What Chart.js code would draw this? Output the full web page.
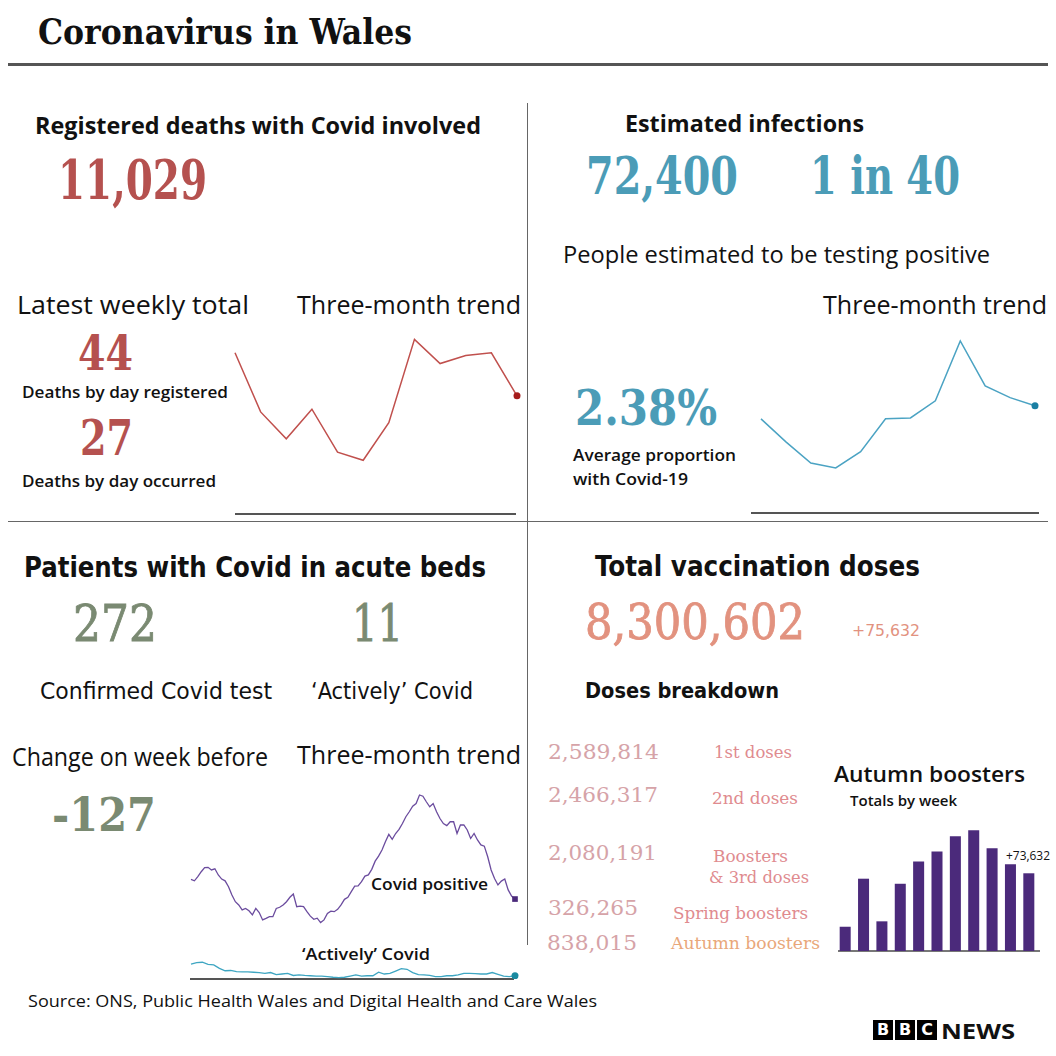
<!DOCTYPE html>
<html>
<head>
<meta charset="utf-8">
<script src="https://cdn.jsdelivr.net/npm/chart.js@4.4.1/dist/chart.umd.min.js"></script>
<style>
  body { margin: 0; background: #fff; }
  #page { position: relative; width: 1056px; height: 1056px; overflow: hidden; background: #fff; }
  .t { position: absolute; white-space: nowrap; line-height: 1; transform: translateY(-50%); transform-origin: left center; color: #111; }
  .sans { font-family: "Open Sans", "Noto Sans", sans-serif; }
  .cond { font-family: "DejaVu Sans", sans-serif; font-stretch: condensed; }
  .serif { font-family: "DejaVu Serif", serif; }
  .big { font-weight: bold; font-stretch: condensed; }
  .mid { font-stretch: condensed; -webkit-text-stroke: 0.8px currentColor; }
  .rule { position: absolute; background: #555; }
  canvas { position: absolute; }
  .bbc { position: absolute; top: 1020px; width: 20px; height: 20px; background: #000; color: #fff;
         font: bold 16px "DejaVu Sans", sans-serif; text-align: center; line-height: 20px; }
</style>
</head>
<body>
<div id="page">

  <!-- header -->
  <div class="t serif" style="left:38px;top:31px;font-size:36px;font-weight:bold;font-stretch:condensed" data-w="374">Coronavirus in Wales</div>
  <div class="rule" style="left:8px;top:63px;width:1040px;height:3px;background:#555"></div>
  <div class="rule" style="left:527px;top:103px;width:1px;height:842px;background:#666"></div>
  <div class="rule" style="left:8px;top:521px;width:1040px;height:1px;background:#666"></div>

  <!-- deaths -->
  <div class="t sans" style="left:35px;top:125px;font-size:23px;font-weight:bold" data-w="446">Registered deaths with Covid involved</div>
  <div class="t serif big" style="left:58px;top:180px;font-size:54px;color:#b5514f" data-w="149">11,029</div>
  <div class="t sans" style="left:17px;top:304px;font-size:25px" data-w="232">Latest weekly total</div>
  <div class="t sans" style="left:297px;top:304px;font-size:25px" data-w="224">Three-month trend</div>
  <div class="t serif big" style="left:78px;top:353px;font-size:48px;color:#b5514f" data-w="55">44</div>
  <div class="t sans" style="left:22px;top:391px;font-size:17px;font-weight:600" data-w="206">Deaths by day registered</div>
  <div class="t serif big" style="left:80px;top:438px;font-size:48px;color:#b5514f" data-w="53">27</div>
  <div class="t sans" style="left:22px;top:480px;font-size:17px;font-weight:600" data-w="194">Deaths by day occurred</div>
  <div class="rule" style="left:235px;top:513px;width:281px;height:1.5px"></div>
  <canvas id="deathsChart" width="294" height="192" style="left:229px;top:328px"></canvas>

  <!-- infections -->
  <div class="t sans" style="left:625px;top:123px;font-size:23px;font-weight:bold" data-w="239">Estimated infections</div>
  <div class="t serif big" style="left:586px;top:176px;font-size:52px;color:#4b9cb7" data-w="152">72,400</div>
  <div class="t serif big" style="left:810px;top:176px;font-size:52px;color:#4b9cb7" data-w="150">1 in 40</div>
  <div class="t sans" style="left:563px;top:254px;font-size:23px" data-w="427">People estimated to be testing positive</div>
  <div class="t sans" style="left:823px;top:304px;font-size:25px" data-w="224">Three-month trend</div>
  <div class="t serif big" style="left:575px;top:408px;font-size:48px;color:#4b9cb7" data-w="142">2.38%</div>
  <div class="t sans" style="left:573px;top:454px;font-size:17px;font-weight:600" data-w="163">Average proportion</div>
  <div class="t sans" style="left:573px;top:478px;font-size:17px;font-weight:600" data-w="115">with Covid-19</div>
  <div class="rule" style="left:751px;top:512px;width:288px;height:2px"></div>
  <canvas id="infectChart" width="286" height="194" style="left:755px;top:325px"></canvas>

  <!-- hospital beds -->
  <div class="t cond" style="left:24px;top:568px;font-size:28px;font-weight:bold" data-w="462">Patients with Covid in acute beds</div>
  <div class="t serif mid" style="left:73px;top:624px;font-size:50px;color:#7a8a72" data-w="84">272</div>
  <div class="t serif mid" style="left:352px;top:624px;font-size:50px;color:#7a8a72" data-w="51">11</div>
  <div class="t cond" style="left:40px;top:691px;font-size:23px" data-w="232">Confirmed Covid test</div>
  <div class="t cond" style="left:311px;top:691px;font-size:23px" data-w="162">‘Actively’ Covid</div>
  <div class="t sans" style="left:12px;top:756px;font-size:25px" data-w="256">Change on week before</div>
  <div class="t sans" style="left:297px;top:754px;font-size:25px" data-w="224">Three-month trend</div>
  <div class="t serif big" style="left:52px;top:815px;font-size:46px;color:#7a8a72" data-w="104">-127</div>
  <div class="t sans" style="left:371px;top:883px;font-size:17px;font-weight:600" data-w="117">Covid positive</div>
  <div class="t sans" style="left:302px;top:953px;font-size:17px;font-weight:600" data-w="128">‘Actively’ Covid</div>
  <div class="rule" style="left:190px;top:978px;width:324px;height:1.5px"></div>
  <canvas id="bedsChart" width="336" height="201" style="left:185px;top:784px"></canvas>

  <!-- vaccinations -->
  <div class="t cond" style="left:595px;top:567px;font-size:28px;font-weight:bold" data-w="325">Total vaccination doses</div>
  <div class="t serif mid" style="left:585px;top:622px;font-size:48px;color:#e2927f" data-w="220">8,300,602</div>
  <div class="t cond" style="left:852px;top:631px;font-size:15px;color:#e2927f" data-w="68">+75,632</div>
  <div class="t cond" style="left:585px;top:691px;font-size:21px;font-weight:bold" data-w="194">Doses breakdown</div>

  <div class="t serif" style="left:548px;top:752px;font-size:21px;color:#d6a3a8" data-w="111">2,589,814</div>
  <div class="t serif" style="left:548px;top:795px;font-size:21px;color:#d6a3a8" data-w="110">2,466,317</div>
  <div class="t serif" style="left:548px;top:853px;font-size:21px;color:#d6a3a8" data-w="109">2,080,191</div>
  <div class="t serif" style="left:548px;top:908px;font-size:21px;color:#d6a3a8" data-w="90">326,265</div>
  <div class="t serif" style="left:547px;top:943px;font-size:21px;color:#d6a3a8" data-w="90">838,015</div>
  <div class="t serif" style="left:714px;top:752px;font-size:17px;color:#e08b8f" data-w="78">1st doses</div>
  <div class="t serif" style="left:712px;top:798px;font-size:17px;color:#e08b8f" data-w="86">2nd doses</div>
  <div class="t serif" style="left:713px;top:856px;font-size:17px;color:#e08b8f" data-w="75">Boosters</div>
  <div class="t serif" style="left:709px;top:877px;font-size:17px;color:#e08b8f" data-w="100">&amp; 3rd doses</div>
  <div class="t serif" style="left:673px;top:913px;font-size:17px;color:#e08b8f" data-w="135">Spring boosters</div>
  <div class="t serif" style="left:671px;top:943px;font-size:17px;color:#e9a77a" data-w="149">Autumn boosters</div>

  <div class="t sans" style="left:834px;top:773px;font-size:22px;font-weight:600" data-w="191">Autumn boosters</div>
  <div class="t sans" style="left:850px;top:800px;font-size:15px;font-weight:600" data-w="107">Totals by week</div>
  <div class="t sans" style="left:1006px;top:856px;font-size:12px" data-w="44">+73,632</div>
  <div class="rule" style="left:838px;top:950px;width:202px;height:2px;background:#777"></div>
  <canvas id="boostChart" width="214" height="142" style="left:830px;top:815px"></canvas>

  <!-- footer -->
  <div class="t sans" style="left:28px;top:1001px;font-size:16px" data-w="569">Source: ONS, Public Health Wales and Digital Health and Care Wales</div>
  <div class="bbc" style="left:873px">B</div>
  <div class="bbc" style="left:895px">B</div>
  <div class="bbc" style="left:917px">C</div>
  <div class="t sans" style="left:941px;top:1030px;font-size:22px;font-weight:bold" data-w="74">NEWS</div>
</div>

<script>
// weekly registered deaths, last 12 weeks
var deathWeeks = ['W1','W2','W3','W4','W5','W6','W7','W8','W9','W10','W11','W12'];
var deathValues = [60, 38, 28, 39, 23, 20, 34, 65, 56, 59, 60, 44];

// ONS infection survey, % testing positive
var infectWeeks = ['W1','W2','W3','W4','W5','W6','W7','W8','W9','W10','W11','W12'];
var infectValues = [2.09, 1.58, 1.11, 1.00, 1.36, 2.09, 2.11, 2.49, 3.82, 2.82, 2.56, 2.38];

// patients in acute beds, daily
var bedsPositive = [339,334,348,365,379,380,371,375,354,340,
    334,314,286,263,252,235,240,232,218,240,
    226,201,206,212,212,240,244,252,263,278,
    289,246,248,246,229,214,203,207,192,201,
    223,231,229,237,252,271,278,297,316,317,
    331,350,354,373,401,418,439,467,492,475,
    495,509,529,552,569,588,597,626,622,603,
    586,597,569,546,529,522,535,535,495,524,
    524,507,478,495,473,456,452,416,371,342,
    320,333,340,303,282,272];
var bedsActive = [51,56,57,50,48,36,28,29,25,24,
    24,23,22,19,22,15,17,19,12,14,
    12,11,10,10,8,6,5,6,10,14,
    10,11,11,23,17,19,27,35,33,22,
    15,14,12,8,8,11,11,14,19,19,
    18,17,17,22,16,10,8,11];

// autumn boosters given per week
var boosterWeeks = ['Wk 1','Wk 2','Wk 3','Wk 4','Wk 5','Wk 6','Wk 7','Wk 8','Wk 9','Wk 10','Wk 11'];
var boosterValues = [20600, 61400, 25200, 57100, 76100, 84600, 97400, 102500, 87200, 73632, 66000];

Chart.defaults.animation = false;
Chart.defaults.plugins.legend.display = false;
Chart.defaults.plugins.tooltip.enabled = false;

function lastOnly(arr, r) {
    return arr.map(function(v, i) { return i === arr.length - 1 ? r : 0; });
}

var pad = { left: 6, right: 6, top: 6, bottom: 6 };

// deaths trend
new Chart(document.getElementById('deathsChart'), {
    type: 'line',
    data: {
        labels: deathWeeks,
        datasets: [{
            data: deathValues,
            borderColor: '#c0504d',
            borderWidth: 1.5,
            pointRadius: lastOnly(deathValues, 3.5),
            pointBackgroundColor: '#a51c1c',
            pointBorderWidth: 0,
            tension: 0
        }]
    },
    options: {
        responsive: false,
        layout: { padding: pad },
        scales: {
            x: { display: false },
            y: { display: false, min: 0, max: 67 }
        }
    }
});

// infections trend
new Chart(document.getElementById('infectChart'), {
    type: 'line',
    data: {
        labels: infectWeeks,
        datasets: [{
            data: infectValues,
            borderColor: '#4ba3c3',
            borderWidth: 1.5,
            pointRadius: lastOnly(infectValues, 3.5),
            pointBackgroundColor: '#1b7fa3',
            pointBorderWidth: 0,
            tension: 0
        }]
    },
    options: {
        responsive: false,
        layout: { padding: pad },
        scales: {
            x: { display: false },
            y: { display: false, min: 0, max: 4.04 }
        }
    }
});

// hospital beds trend - two series with different lengths, so two x axes
new Chart(document.getElementById('bedsChart'), {
    type: 'line',
    data: {
        datasets: [{
            data: bedsPositive,
            xAxisID: 'x',
            borderColor: '#6b4c9e',
            borderWidth: 1.3,
            pointRadius: lastOnly(bedsPositive, 4),
            pointStyle: 'rect',
            pointBackgroundColor: '#4b2a7b',
            pointBorderWidth: 0,
            tension: 0
        }, {
            data: bedsActive,
            xAxisID: 'x2',
            borderColor: '#3ea6c2',
            borderWidth: 1.3,
            pointRadius: lastOnly(bedsActive, 3.5),
            pointBackgroundColor: '#1a8aa0',
            pointBorderWidth: 0,
            tension: 0
        }]
    },
    options: {
        responsive: false,
        layout: { padding: pad },
        scales: {
            x: { type: 'category', display: false, labels: bedsPositive.map(function(v, i) { return 'd' + i; }) },
            x2: { type: 'category', display: false, labels: bedsActive.map(function(v, i) { return 'd' + i; }) },
            y: { display: false, min: 0, max: 643 }
        }
    }
});

// autumn boosters by week
new Chart(document.getElementById('boostChart'), {
    type: 'bar',
    data: {
        labels: boosterWeeks,
        datasets: [{
            data: boosterValues,
            backgroundColor: '#4b2a7b',
            barPercentage: 1,
            categoryPercentage: 0.6
        }]
    },
    options: {
        responsive: false,
        layout: { padding: pad },
        scales: {
            x: { display: false },
            y: { display: false, min: 0, max: 110400 }
        }
    }
});

// squeeze text to the measured widths of the original
function fitText() {
    document.querySelectorAll('[data-w]').forEach(function(el) {
        var w = el.getBoundingClientRect().width;
        el.style.transform = 'translateY(-50%) scaleX(' + (el.dataset.w / w) + ')';
    });
}
if (document.fonts && document.fonts.ready) {
    document.fonts.ready.then(fitText);
} else {
    fitText();
}
</script>
</body>
</html>
